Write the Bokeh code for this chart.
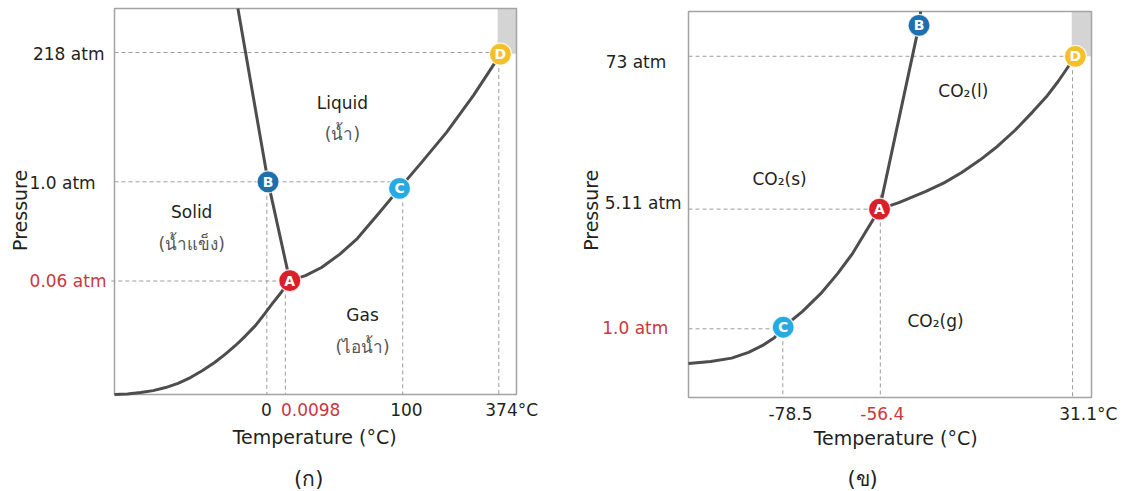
import math
from bokeh.plotting import figure
from bokeh.models import Range1d, ColumnDataSource
from bokeh.layouts import row
from bokeh.core.properties import value
from bokeh.embed import file_html
from bokeh.resources import INLINE

FONT = "DejaVu Sans"
TXT = "#231f20"
RED = "#c8383e"
CURVE = "#4d4d4d"
DASH = "#9c9c9c"
PT_COLORS = ["#d9202a", "#1d6fae", "#27a9e1", "#f3bf2a"]

# Schematic phase diagrams: positions are % of the diagram box (axes not to scale)
# ---------------- Panel (ก): water ----------------
w_curve_x = [0, 3.2, 6.5, 9.6, 12.7, 15.8, 18.9, 21.9, 24.9, 27.5, 30.1, 32.6, 35.1, 37.2, 39.3, 41.5, 43.6,
             47.5, 51.5, 56.0, 60.4, 65.7, 70.9, 76.6, 82.6, 89.3, 96.0]
w_curve_y = [0, 0.15, 0.5, 1.0, 1.8, 2.9, 4.4, 6.2, 8.3, 10.4, 12.7, 15.2, 17.9, 20.7, 23.6, 26.5, 29.5,
             30.8, 32.9, 36.3, 40.4, 46.9, 53.4, 60.4, 67.9, 77.5, 88.1]
w_melt_x = [30.7, 38.2, 43.6]
w_melt_y = [100, 55.1, 29.5]
pt_names = ["A", "B", "C", "D"]
w_pt_x = [43.6, 38.2, 70.9, 96.0]
w_pt_y = [29.5, 55.1, 53.4, 88.2]
w_h_level = [88.6, 55.1, 29.4]
w_h_start = [0, 0, -0.8]
w_h_end = [96.0, 70.9, 43.6]
w_v_pos = [37.9, 42.5, 71.7, 95.6]
w_v_top = [55.1, 29.5, 53.4, 88.2]
w_crit_box = [95.3, 88.3]
w_xtick_text = ["0", "0.0098", "100", "374\u00b0C"]
w_xtick_pos = [37.8, 48.8, 72.6, 98.8]
w_xtick_red = [False, True, False, False]
w_ytick_text = ["218 atm", "1.0 atm", "0.06 atm"]
w_ytick_pos = [88.1, 54.9, 29.3]
w_ytick_red = [False, False, True]
w_region_text = ["Liquid", "(น้ำ)", "Solid", "(น้ำแข็ง)", "Gas", "(ไอน้ำ)"]
w_region_x = [56.7, 56.7, 19.2, 19.2, 61.7, 61.7]
w_region_y = [75.4, 67.6, 47.2, 39.1, 20.5, 12.2]

# ---------------- Panel (ข): carbon dioxide ----------------
c_curve_x = [0, 5.5, 10.7, 14.9, 18.4, 21.3, 23.5, 28.3, 32.8, 37.0, 40.7, 43.9, 47.4,
             52.2, 58.9, 63.4, 67.8, 72.3, 76.7, 81.1, 85.4, 88.8, 91.8, 96.0]
c_curve_y = [8.8, 9.3, 10.2, 11.7, 13.5, 15.5, 18.2, 22.3, 26.9, 32.1, 37.3, 42.8, 48.8,
             50.5, 53.4, 55.6, 58.3, 61.5, 65.1, 69.3, 74.0, 77.9, 82.0, 88.4]
c_melt_x = [57.6, 57.2, 47.4]
c_melt_y = [100, 96.4, 48.8]
c_pt_x = [47.4, 57.2, 23.5, 96.0]
c_pt_y = [48.8, 96.4, 18.2, 88.4]
c_h_level = [88.4, 48.8, 17.8]
c_h_start = [0, 0, 0]
c_h_end = [96.0, 47.4, 23.5]
c_v_pos = [23.4, 47.6, 95.3]
c_v_top = [18.2, 52.6, 88.4]
c_crit_box = [95.1, 88.4]
c_xtick_text = ["-78.5", "-56.4", "31.1\u00b0C"]
c_xtick_pos = [25.3, 48.1, 99.2]
c_xtick_red = [False, True, False]
c_ytick_text = ["73 atm", "5.11 atm", "1.0 atm"]
c_ytick_pos = [86.8, 50.5, 18.1]
c_ytick_red = [False, False, True]
c_region_text = ["CO\u2082(l)", "CO\u2082(s)", "CO\u2082(g)"]
c_region_x = [68.2, 22.6, 61.3]
c_region_y = [79.5, 56.7, 19.9]


def texts(p, xs, ys, ts, colors, size, align="center", baseline="middle", angle=0.0, style="normal"):
    src = ColumnDataSource(dict(x=xs, y=ys, t=ts, c=colors))
    p.text("x", "y", text="t", source=src, text_color="c", text_font=value(FONT),
           text_font_size=size, text_align=align, text_baseline=baseline, angle=angle,
           text_font_style=style)


def make_panel(width, height, box_px, d):
    # box_px: (left, right, top, bottom) pixel edges of the diagram box inside the figure
    left, right, top, bottom = box_px
    sx = (right - left) / 100.0
    sy = (bottom - top) / 100.0
    p = figure(width=width, height=height,
               x_range=Range1d(-left / sx, (width - left) / sx),
               y_range=Range1d(-(height - bottom) / sy, 100 + top / sy),
               x_axis_type=None, y_axis_type=None,
               output_backend="svg", toolbar_location=None, min_border=0)
    p.grid.visible = False
    p.outline_line_color = None
    p.background_fill_color = "white"
    p.border_fill_color = "white"

    p.quad(left=[d["crit"][0]], right=[100], bottom=[d["crit"][1]], top=[100],
           fill_color="#d4d4d4", line_color=None)
    p.quad(left=[0], right=[100], bottom=[0], top=[100], fill_color=None,
           line_color="#a3a3a3", line_width=1.5)

    p.segment(x0=d["h_start"], y0=d["h_level"], x1=d["h_end"], y1=d["h_level"],
              line_color=DASH, line_width=1, line_dash="4 3")
    p.segment(x0=d["v_pos"], y0=d["v_top"], x1=d["v_pos"], y1=[0] * len(d["v_pos"]),
              line_color=DASH, line_width=1, line_dash="4 3")

    p.line(d["curve_x"], d["curve_y"], line_color=CURVE, line_width=3, line_join="round")
    p.line(d["melt_x"], d["melt_y"], line_color=CURVE, line_width=3, line_join="round")

    src = ColumnDataSource(dict(x=d["pt_x"], y=d["pt_y"], t=pt_names, c=PT_COLORS))
    p.scatter("x", "y", source=src, size=22, fill_color="c", line_color="white",
              line_width=1.2, line_alpha=0.8)
    p.text("x", "y", text="t", source=src, text_color="white", text_font=value(FONT),
           text_font_style="bold", text_font_size="14px", text_align="center",
           text_baseline="middle")

    texts(p, d["reg_x"], d["reg_y"], d["reg_t"], d["reg_c"], "17px")

    # tick labels
    xt_y = d["xt_y"]
    texts(p, d["xt_pos"], [xt_y] * len(d["xt_pos"]), d["xt_t"],
          [RED if r else TXT for r in d["xt_red"]], "17px")
    texts(p, d["yt_end"], d["yt_pos"], d["yt_t"],
          [RED if r else TXT for r in d["yt_red"]], "17px", align="right")
    # axis titles and caption
    texts(p, [d["xlab"][0]], [d["xlab"][1]], ["Temperature (\u00b0C)"], [TXT], "19px")
    texts(p, [d["ylab"][0]], [d["ylab"][1]], ["Pressure"], [TXT], "19px", angle=math.pi / 2)
    texts(p, [d["cap"][0]], [d["cap"][1]], [d["cap_t"]], [TXT], "21px")
    return p


water = dict(curve_x=w_curve_x, curve_y=w_curve_y, melt_x=w_melt_x, melt_y=w_melt_y,
             pt_x=w_pt_x, pt_y=w_pt_y, h_level=w_h_level, h_start=w_h_start, h_end=w_h_end,
             v_pos=w_v_pos, v_top=w_v_top, crit=w_crit_box,
             reg_x=w_region_x, reg_y=w_region_y, reg_t=w_region_text,
             reg_c=[TXT, "#555555", TXT, "#555555", TXT, "#555555"],
             xt_pos=w_xtick_pos, xt_t=w_xtick_text, xt_red=w_xtick_red, xt_y=-3.9,
             yt_pos=w_ytick_pos, yt_t=w_ytick_text, yt_red=w_ytick_red, yt_end=[-2.5, -4.7, -2.0],
             xlab=(49.8, -10.9), ylab=(-23.6, 47.7), cap=(48.3, -21.8), cap_t="(ก)")
co2 = dict(curve_x=c_curve_x, curve_y=c_curve_y, melt_x=c_melt_x, melt_y=c_melt_y,
           pt_x=c_pt_x, pt_y=c_pt_y, h_level=c_h_level, h_start=c_h_start, h_end=c_h_end,
           v_pos=c_v_pos, v_top=c_v_top, crit=c_crit_box,
           reg_x=c_region_x, reg_y=c_region_y, reg_t=c_region_text, reg_c=[TXT, TXT, TXT],
           xt_pos=c_xtick_pos, xt_t=c_xtick_text, xt_red=c_xtick_red, xt_y=-4.15,
           yt_pos=c_ytick_pos, yt_t=c_ytick_text, yt_red=c_ytick_red, yt_end=[-5.5, -1.7, -5.0],
           xlab=(51.4, -10.4), ylab=(-24.1, 48.5), cap=(43.2, -21.0), cap_t="(ข)")

p1 = make_panel(563, 491, (114, 516, 8, 394), water)
p2 = make_panel(563, 491, (125, 528, 11, 397), co2)

layout = row(p1, p2)
open("out.html", "w").write(file_html(layout, INLINE))
